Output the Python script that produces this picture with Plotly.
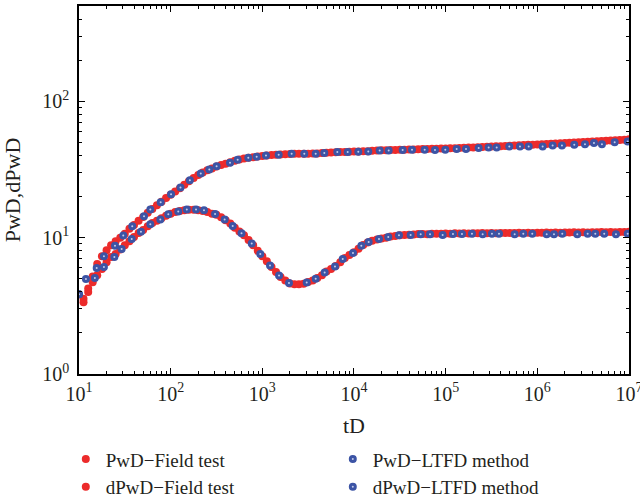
import plotly.graph_objects as go

# ---- Field test data (dimensionless time tD, pressure PwD, derivative dPwD) ----
td_field = [
    11.2, 12.6, 14.1, 15.8, 17.8, 20.0, 22.4, 25.1, 28.2, 31.6, 35.5, 39.8, 44.7, 50.1, 56.2, 63.1, 70.8, 79.4, 89.1,
    100, 112, 126, 141, 158, 178, 200, 224, 251, 282, 316, 355, 398, 447, 501, 562, 631, 708, 794, 891,
    1.00e3, 1.12e3, 1.26e3, 1.41e3, 1.58e3, 1.78e3, 2.00e3, 2.24e3, 2.51e3, 2.82e3, 3.16e3, 3.55e3, 3.98e3, 4.47e3, 5.01e3, 5.62e3, 6.31e3, 7.08e3, 7.94e3, 8.91e3,
    1.00e4, 1.12e4, 1.26e4, 1.41e4, 1.58e4, 1.78e4, 2.00e4, 2.24e4, 2.51e4, 2.82e4, 3.16e4, 3.55e4, 3.98e4, 4.47e4, 5.01e4, 5.62e4, 6.31e4, 7.08e4, 7.94e4, 8.91e4,
    1.00e5, 1.12e5, 1.26e5, 1.41e5, 1.58e5, 1.78e5, 2.00e5, 2.24e5, 2.51e5, 2.82e5, 3.16e5, 3.55e5, 3.98e5, 4.47e5, 5.01e5, 5.62e5, 6.31e5, 7.08e5, 7.94e5, 8.91e5,
    1.00e6, 1.12e6, 1.26e6, 1.41e6, 1.58e6, 1.78e6, 2.00e6, 2.24e6, 2.51e6, 2.82e6, 3.16e6, 3.55e6, 3.98e6, 4.47e6, 5.01e6, 5.62e6, 6.31e6, 7.08e6, 7.94e6, 8.91e6,
    1.00e7,
]
pwd_field = [
    3.56, 4.24, 5.2, 6.4, 7.3, 8.1, 8.8, 9.4, 10.0, 10.7, 11.6, 12.4, 13.3, 14.2, 15.2, 16.2, 17.3, 18.3, 19.5,
    20.6, 21.8, 23.0, 24.4, 25.9, 27.4, 28.8, 30.1, 31.2, 32.2, 33.2, 34.1, 34.9, 35.7, 36.6, 37.4, 38.0, 38.5, 38.9, 39.3,
    39.7, 40.1, 40.3, 40.5, 40.7, 40.9, 41.1, 41.2, 41.2, 41.3, 41.3, 41.4, 41.5, 41.7, 41.9, 42.1, 42.3, 42.4, 42.5, 42.6,
    42.8, 42.9, 43.0, 43.1, 43.3, 43.5, 43.7, 43.8, 43.9, 44.0, 44.1, 44.2, 44.3, 44.4, 44.5, 44.6, 44.7, 44.8, 44.9, 45.0,
    45.1, 45.2, 45.3, 45.5, 45.6, 45.8, 45.9, 46.1, 46.2, 46.4, 46.6, 46.8, 46.9, 47.1, 47.3, 47.5, 47.7, 47.8, 48.0, 48.1,
    48.3, 48.5, 48.7, 48.9, 49.1, 49.3, 49.5, 49.7, 49.9, 50.1, 50.3, 50.5, 50.7, 50.9, 51.1, 51.3, 51.6, 51.8, 52.0, 52.3,
    52.6,
]
dpwd_field = [
    3.36, 3.99, 4.7, 5.3, 5.9, 6.6, 7.2, 7.6, 8.2, 8.8, 9.4, 10.1, 10.8, 11.4, 12.1, 12.8, 13.3, 13.9, 14.5,
    15.0, 15.4, 15.7, 15.9, 16.0, 16.0, 15.9, 15.7, 15.4, 15.0, 14.7, 14.1, 13.4, 12.7, 11.8, 11.1, 10.4, 9.6, 8.8, 8.0,
    7.3, 6.7, 6.1, 5.6, 5.15, 4.85, 4.62, 4.55, 4.55, 4.6, 4.72, 4.85, 5.05, 5.3, 5.65, 5.9, 6.2, 6.6, 7.1, 7.45,
    7.8, 8.3, 8.85, 9.2, 9.5, 9.7, 9.85, 10.0, 10.2, 10.3, 10.4, 10.45, 10.5, 10.55, 10.62, 10.65, 10.6, 10.68, 10.7, 10.66,
    10.72, 10.7, 10.75, 10.72, 10.76, 10.74, 10.78, 10.75, 10.8, 10.77, 10.8, 10.78, 10.82, 10.8, 10.84, 10.8, 10.85, 10.82, 10.86, 10.84,
    10.88, 10.85, 10.9, 10.86, 10.9, 10.88, 10.92, 10.9, 10.94, 10.9, 10.95, 10.92, 10.96, 10.94, 10.98, 10.95, 11.0, 10.97, 11.02, 11.0,
    11.05,
]

# ---- LTFD method results ----
td_pwd_ltfd = [
    10, 15.6, 18.7, 24.7, 30.4, 38.1, 51.2, 60.0, 77.8, 101,
    128, 162, 213, 264, 317, 444, 538, 703, 867, 1096,
    1508, 2089, 2870, 3820, 4742, 6577, 8531, 11140, 14320, 19060,
    23900, 33960, 42950, 59050, 76500, 99100, 131900, 166700, 229200, 294500,
    360300, 494700, 647000, 805000, 1143000, 1469000, 1857000, 2530000, 3311000, 4150000,
    5070000, 6980000, 9680000,
]
pwd_ltfd = [
    3.85, 5.99, 7.29, 8.73, 10.35, 12.1, 14.35, 16.07, 18.2, 20.8,
    23.3, 26.4, 29.6, 31.6, 33.4, 35.4, 37.3, 38.5, 39.2, 40.1,
    40.6, 41.2, 41.2, 41.2, 41.7, 42.4, 42.4, 42.7, 42.9, 43.6,
    43.6, 43.85, 44.1, 44.1, 43.85, 44.1, 44.6, 44.6, 45.4, 45.9,
    45.9, 46.7, 46.7, 46.7, 46.7, 47.5, 47.5, 48.0, 48.5, 49.4,
    48.5, 50.0, 50.8,
]
td_dpwd_ltfd = [
    10, 11.9, 14.9, 18.7, 24.3, 29.2, 37.6, 47.4, 60.0, 77.1,
    94.3, 121, 150, 189, 231, 305, 388, 475, 593, 766,
    950, 1213, 1521, 1954, 3048, 3820, 4786, 6205, 7535, 9750,
    12020, 14460, 18740, 23660, 30960, 41500, 53400, 67500, 92700, 120200,
    150700, 193700, 253300, 320000, 381900, 566000, 703000, 881000, 1265000, 1520000,
    1872000, 2730000, 3540000, 4290000, 5370000, 7210000, 9680000,
]
dpwd_ltfd = [
    3.85, 4.97, 5.06, 6.09, 7.21, 8.26, 9.78, 11.07, 12.53, 13.56,
    14.84, 15.53, 16.07, 16.07, 15.88, 14.94, 13.56, 12.17, 10.75, 9.06,
    7.59, 6.26, 5.28, 4.64, 4.69, 4.99, 5.56, 6.15, 6.97, 7.72,
    8.73, 9.30, 9.78, 10.12, 10.40, 10.47, 10.58, 10.58, 10.47, 10.65,
    10.65, 10.70, 10.58, 10.70, 10.70, 10.58, 10.70, 10.70, 10.58, 10.58,
    10.70, 10.58, 10.70, 10.70, 10.70, 10.58, 10.70,
]

x_tickvals = [1e1, 1e2, 1e3, 1e4, 1e5, 1e6, 1e7]
x_ticktext = ["10<sup>1</sup>", "10<sup>2</sup>", "10<sup>3</sup>", "10<sup>4</sup>",
              "10<sup>5</sup>", "10<sup>6</sup>", "10<sup>7</sup>"]
y_tickvals = [1, 10, 100]
y_ticktext = ["10<sup>0</sup>", "10<sup>1</sup>", "10<sup>2</sup>"]

RED = "#ec2b2b"
BLUE = "#3c54a5"
BLUE_FILL = "#c3cbea"
INK = "#231f20"
FONT = "Liberation Serif"

field_marker = dict(symbol="circle", size=8, color=RED, line=dict(width=0))
ltfd_marker = dict(symbol="circle", size=5, color=BLUE_FILL, line=dict(color=BLUE, width=3))

fig = go.Figure()
fig.add_trace(go.Scatter(x=td_field, y=pwd_field, mode="markers", name="PwD\u2212Field test",
                         marker=field_marker, legendrank=1))
fig.add_trace(go.Scatter(x=td_field, y=dpwd_field, mode="markers", name="dPwD\u2212Field test",
                         marker=field_marker, legendrank=3))
fig.add_trace(go.Scatter(x=td_pwd_ltfd, y=pwd_ltfd, mode="markers", name="PwD\u2212LTFD method",
                         marker=ltfd_marker, legendrank=2))
fig.add_trace(go.Scatter(x=td_dpwd_ltfd, y=dpwd_ltfd, mode="markers", name="dPwD\u2212LTFD method",
                         marker=ltfd_marker, legendrank=4))

axis_common = dict(
    type="log", showgrid=False, zeroline=False, automargin=False,
    showline=True, linecolor="black", linewidth=1.5, mirror="ticks",
    ticks="inside", ticklen=6, tickwidth=1, tickcolor="black",
    tickfont=dict(family=FONT, size=20, color=INK),
    ticklabeloverflow="allow",
    minor=dict(ticks="inside", ticklen=3, tickwidth=1, tickcolor="black", dtick="D1", showgrid=False),
    title_font=dict(family=FONT, size=22, color=INK),
)

fig.update_xaxes(**axis_common, range=[1, 7.0002], tickmode="array",
                 tickvals=x_tickvals, ticktext=x_ticktext, ticklabelstandoff=1,
                 title=dict(text="tD", standoff=14))
fig.update_yaxes(**axis_common, range=[0, 2.699], tickmode="array",
                 tickvals=y_tickvals, ticktext=y_ticktext, ticklabelstandoff=4,
                 title=dict(text="PwD,dPwD", standoff=17))

fig.update_layout(
    width=640, height=500,
    margin=dict(l=79, r=11, t=6, b=126, autoexpand=False),
    paper_bgcolor="white", plot_bgcolor="white",
    font=dict(family=FONT, color=INK),
    legend=dict(orientation="h", x=-0.024, xanchor="left", y=-0.18, yanchor="top",
                entrywidth=222, entrywidthmode="pixels",
                font=dict(family=FONT, size=19, color=INK),
                bgcolor="rgba(0,0,0,0)", itemsizing="trace"),
    showlegend=True,
)

fig.write_html("out.html")
